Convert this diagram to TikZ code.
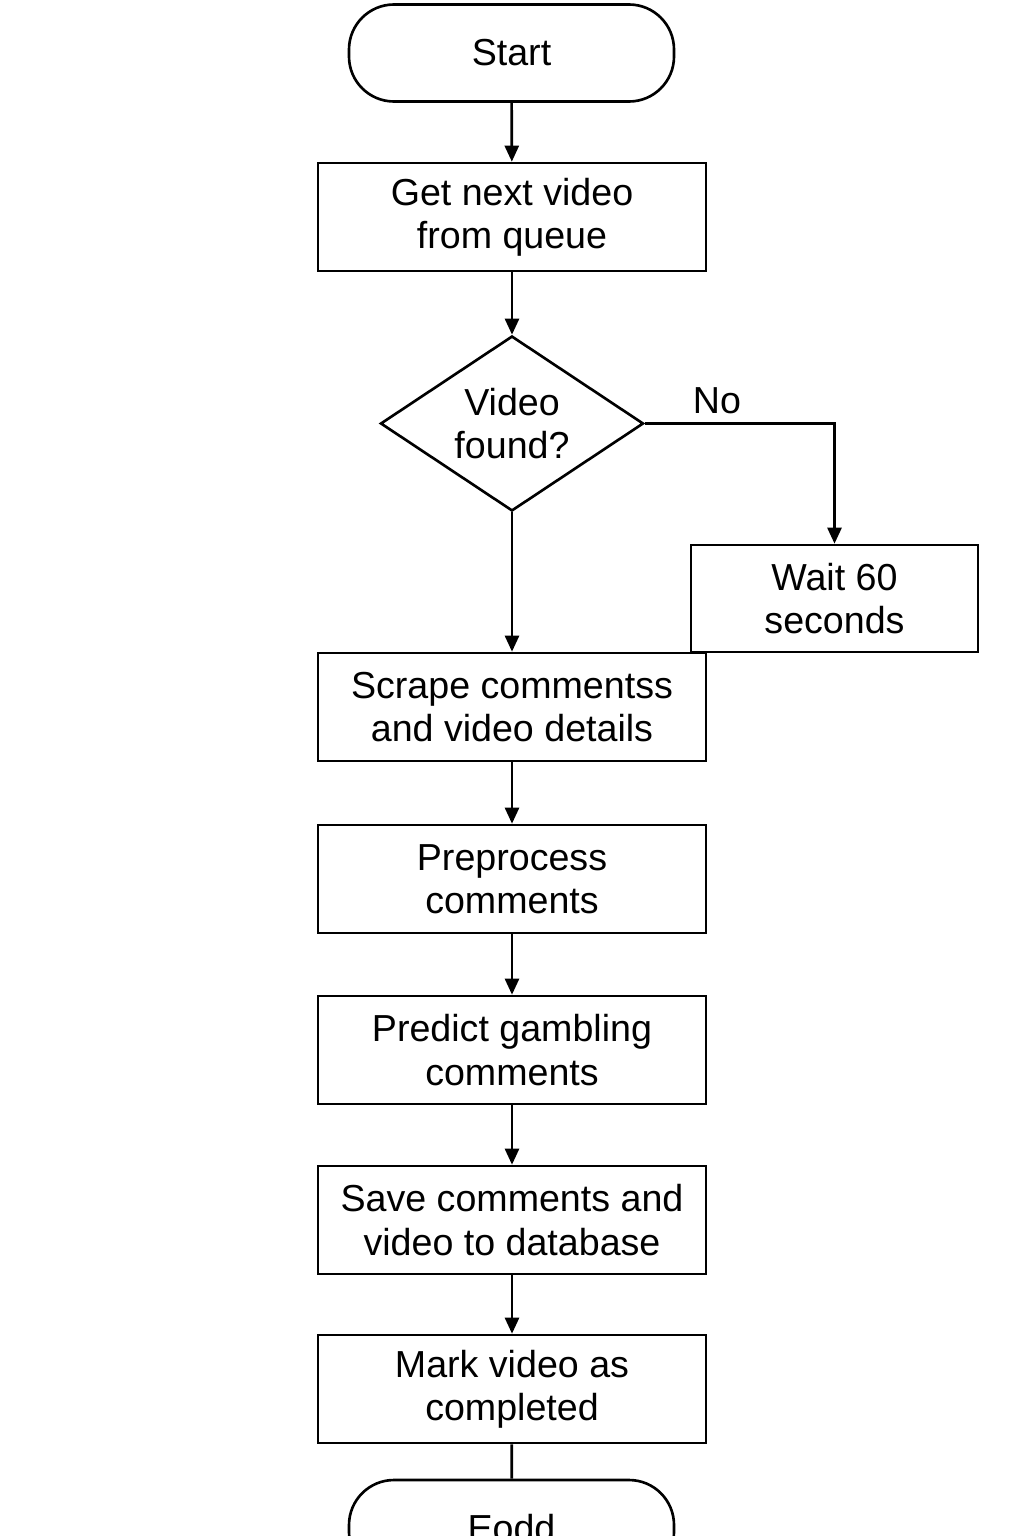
\documentclass[tikz,border=0pt]{standalone}
\usepackage{fontspec}
\setmainfont{Liberation Sans}
\usetikzlibrary{shapes.geometric,arrows.meta}

\begin{document}
\begin{tikzpicture}[
        line width=0.75pt,
        every node/.style={font=\fontsize{10.7}{12.3}\selectfont, align=center, inner sep=0pt},
        termnode/.style={draw, rounded corners=0.45cm, minimum width=3.25cm, minimum height=0.97cm},
        boxnode/.style={draw, minimum width=3.88cm, minimum height=1.08cm},
        decnode/.style={draw, diamond, aspect=1.5, minimum width=2.63cm, minimum height=1.75cm},
        arr/.style={-{Triangle[length=0.16cm,width=0.14cm]}},
        ]
                \useasboundingbox (0,0) rectangle (10.24,-15.36);

                \node[termnode]  at(5.115,-0.53) (1) {Start};
                \node[boxnode]   at(5.12,-2.17)   (2) {Get next video\\from queue};
                \node[decnode]   at(5.12,-4.235)  (3) {Video\\found?};
                \node[boxnode, minimum width=2.87cm, minimum height=1.07cm] at(8.345,-5.985) (4) {Wait 60\\seconds};
                \node[boxnode]   at(5.12,-7.07)   (5) {Scrape commentss\\and video details};
                \node[boxnode]   at(5.12,-8.79)   (6) {Preprocess\\comments};
                \node[boxnode]   at(5.12,-10.50)  (7) {Predict gambling\\comments};
                \node[boxnode]   at(5.12,-12.20)  (8) {Save comments and\\video to database};
                \node[boxnode]   at(5.12,-13.89)  (9) {Mark video as\\completed};
                \node[termnode]  at(5.115,-15.285) (10) {Eodd};

                \draw[arr] (1)  --  (2) ;
                \draw[arr] (2)  --  (3) ;
                \draw[arr] (3)  --  (5) ;
                \draw[arr] (3.east)  -|  node[pos=0.19, above=0.08cm] {No} (4.north) ;
                \draw[arr] (5)  --  (6) ;
                \draw[arr] (6)  --  (7) ;
                \draw[arr] (7)  --  (8) ;
                \draw[arr] (8)  --  (9) ;
                \draw (9)  --  (10) ;

            \end{tikzpicture}
\end{document}
